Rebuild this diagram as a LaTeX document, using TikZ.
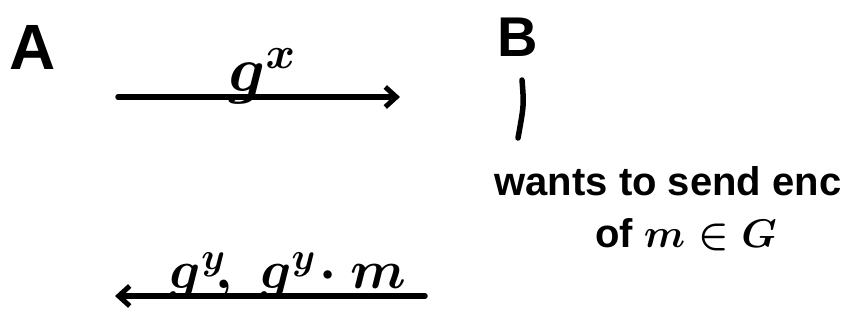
\documentclass[tikz,border=0pt]{standalone}
\usepackage{fix-cm}
\usepackage{fontspec}
\setmainfont{Liberation Sans}
\setsansfont{Liberation Sans}
\usetikzlibrary{arrows.meta}
\tikzset{
  ink/.style={line width=5.5pt, line cap=round, line join=round, black},
  msg/.style={ink, -{Straight Barb[length=11pt,width=20pt,line width=5pt]}},
  lbl/.style={inner sep=0pt, text=black},
}
\begin{document}
\begin{tikzpicture}[x=1pt,y=-1pt]
\useasboundingbox (0,0) rectangle (862,322);
% parties
\node[lbl, font=\fontsize{64}{64}\selectfont\bfseries] (A) at (33,47) {A};
\node[lbl, font=\fontsize{56}{56}\selectfont\bfseries] (B) at (518,37) {B};
% top message
\coordinate (t1) at (118,97);
\coordinate (t2) at (400,97);
\draw[msg] (t1) -- (t2);
\node[lbl, font=\fontsize{64}{64}\selectfont\boldmath] (gx) at (262,76) {$g^{x}$};
% B line and note
\coordinate (b1) at (522,80);
\coordinate (b2) at (518,138);
\draw[ink] (b1) .. controls (524,105) .. (b2);
\node[lbl, font=\fontsize{40}{40}\selectfont\bfseries, anchor=base] (note1) at (668,195) {wants to send enc};
\node[lbl, font=\fontsize{40}{40}\selectfont\bfseries\boldmath, anchor=base] (note2) at (686,247) {of $m\in G$};
% bottom message
\coordinate (u1) at (425,296);
\coordinate (u2) at (115,296);
\draw[msg] (u1) -- (u2);
\node[lbl, font=\fontsize{54}{54}\selectfont\boldmath] (gy) at (288,276) {$g^{y}\!,\; g^{y}\!\cdot m$};
\end{tikzpicture}
\end{document}
